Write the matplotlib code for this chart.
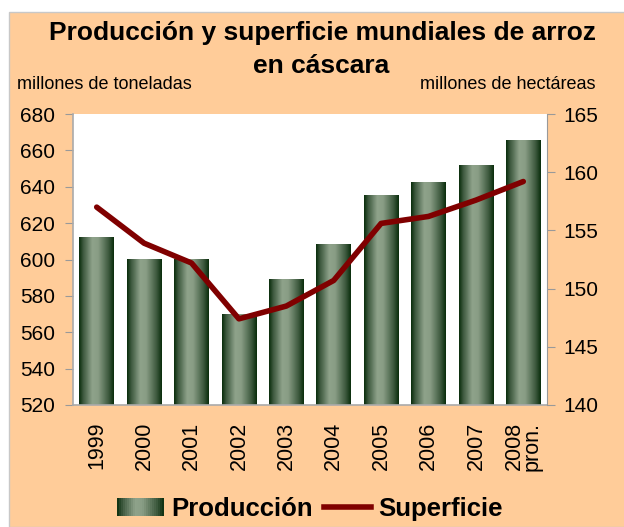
import numpy as np
import matplotlib
matplotlib.use("Agg")
import matplotlib.pyplot as plt
from matplotlib.patches import Rectangle
from matplotlib.lines import Line2D
from matplotlib.legend_handler import HandlerBase
from matplotlib.colors import LinearSegmentedColormap

plt.rcParams["font.family"] = ["Liberation Sans", "DejaVu Sans"]

# datos
years = ["1999", "2000", "2001", "2002", "2003", "2004", "2005", "2006", "2007", "2008\npron."]
produccion = [612, 600, 600, 570, 589, 608.5, 635, 642.5, 651.5, 665.5]
superficie = [157.0, 153.9, 152.2, 147.4, 148.5, 150.7, 155.6, 156.2, 157.6, 159.2]

bg = "#FFCC99"
green_cmap = LinearSegmentedColormap.from_list(
    "bar", [(0.0, "#0b2e0d"), (0.12, "#3f5a40"), (0.38, "#8fa38b"),
            (0.55, "#899d85"), (0.85, "#3e5a3f"), (1.0, "#0b2e0d")])


class GradientHandler(HandlerBase):
    def create_artists(self, legend, orig_handle, xdescent, ydescent,
                       width, height, fontsize, trans):
        n = 24
        arts = []
        for i in range(n):
            r = Rectangle((-xdescent + width * i / n, -ydescent), width / n + 0.3, height,
                          facecolor=green_cmap((i + 0.5) / n), edgecolor="none",
                          transform=trans)
            arts.append(r)
        return arts


fig = plt.figure(figsize=(6.24, 5.27), dpi=100)
fig.patch.set_facecolor("white")
fig.patches.append(Rectangle((9 / 624, 0), 1, 1 - 12 / 527, transform=fig.transFigure,
                             facecolor=bg, edgecolor="#c8c8c8", linewidth=1, zorder=-10))

ax = fig.add_axes([73 / 624, 1 - 405 / 527, 474 / 624, 291 / 527])
ax.set_facecolor("white")
x = np.arange(len(years))
w = 0.73
grad = np.linspace(0, 1, 64).reshape(1, -1)
for xi, v in zip(x, produccion):
    ax.imshow(grad, cmap=green_cmap, aspect="auto", interpolation="bilinear",
              extent=(xi - w / 2, xi + w / 2, 520, v), zorder=2)
ax.set_xlim(-0.5, len(years) - 0.5)
ax.set_ylim(520, 680)
ax.set_yticks(np.arange(520, 681, 20))
ax.set_xticks(x)
ax.set_xticklabels(years, rotation=90, fontsize=15.5, linespacing=0.8)
ax.tick_params(axis="x", length=0, pad=12)
ax.tick_params(axis="y", direction="out", length=6, color="#999999", labelsize=15, pad=7)
for s in ["top", "right"]:
    ax.spines[s].set_visible(False)
for s in ["left", "bottom"]:
    ax.spines[s].set_color("#aaaaaa")
    ax.spines[s].set_linewidth(1.2)

ax2 = ax.twinx()
ax2.plot(x, superficie, color="#800000", linewidth=4, solid_capstyle="round", zorder=5)
ax2.set_ylim(140, 165)
ax2.set_yticks(np.arange(140, 166, 5))
ax2.tick_params(axis="y", direction="out", length=6, color="#999999", labelsize=15, pad=6)
for s in ["top", "left", "bottom"]:
    ax2.spines[s].set_visible(False)
ax2.spines["right"].set_color("#999999")

fig.text(322 / 624, 1 - 40 / 527, "Producción y superficie mundiales de arroz", ha="center",
         va="baseline", fontsize=19, fontweight="bold")
fig.text(321 / 624, 1 - 73 / 527, "en cáscara", ha="center", va="baseline",
         fontsize=19, fontweight="bold")
fig.text(17 / 624, 1 - 89 / 527, "millones de toneladas", ha="left", va="baseline", fontsize=13)
fig.text(596 / 624, 1 - 89 / 527, "millones de hectáreas", ha="right", va="baseline", fontsize=13)

handles = [Rectangle((0, 0), 1, 1), Line2D([], [], color="#800000", linewidth=4)]
fig.legend(handles, ["Producción", "Superficie"], loc="center",
           bbox_to_anchor=(310 / 624, 1 - 509 / 527), ncol=2, frameon=False,
           prop={"weight": "bold", "size": 18.5}, handlelength=1.8, handletextpad=0.3,
           columnspacing=0.45, handler_map={Rectangle: GradientHandler()})

fig.savefig("out.png", dpi=100, facecolor=fig.get_facecolor())
